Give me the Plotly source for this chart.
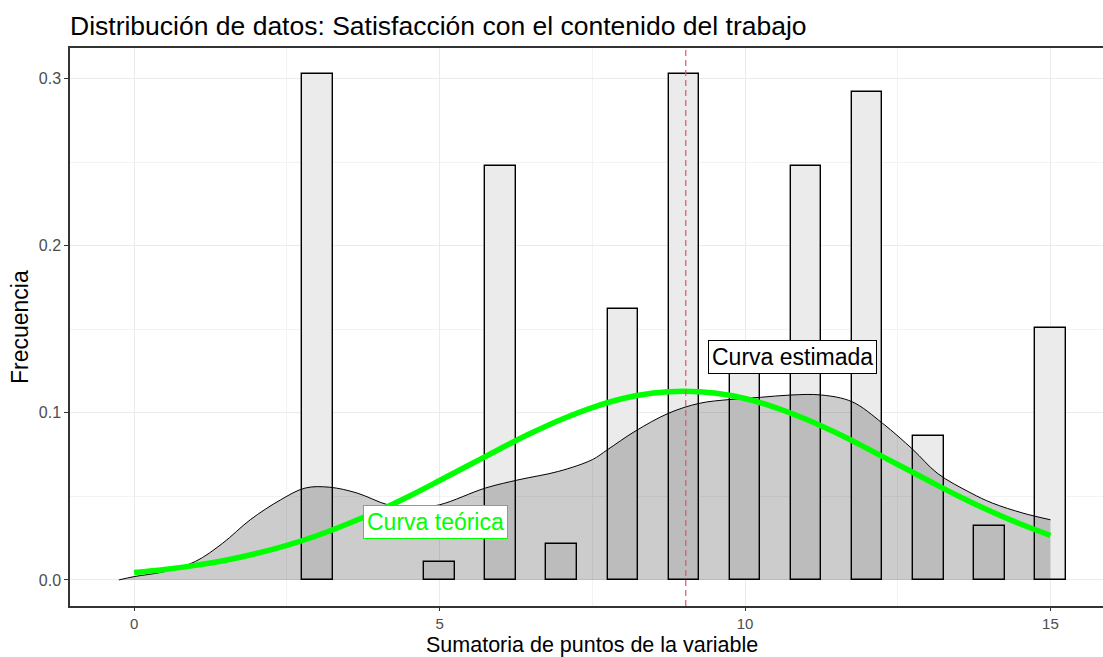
import plotly.graph_objects as go

# Histograma (densidad por barra, ancho de clase 0.5)
puntos = [3, 5, 6, 7, 8, 9, 10, 11, 12, 13, 14, 15]
frecuencia = [0.303, 0.011, 0.248, 0.0215, 0.162, 0.303, 0.140, 0.248, 0.292, 0.086, 0.032, 0.151]

# Curva estimada (densidad empírica)
est_x = [-0.25, 0, 0.5, 1.0, 1.45, 1.9, 2.4, 2.8, 3.2, 3.65, 4.15, 4.55, 5.0, 5.75, 6.3, 6.95,
         7.5, 7.75, 8.2, 8.75, 9.25, 9.75, 10.25, 10.75, 11.25, 11.75, 12.25, 12.75, 13.15,
         13.7, 14.05, 14.55, 15.0]
est_y = [0, 0.002, 0.005, 0.011, 0.022, 0.036, 0.048, 0.055, 0.0555, 0.052, 0.045, 0.043, 0.045,
         0.055, 0.060, 0.065, 0.072, 0.078, 0.089, 0.0998, 0.1057, 0.108, 0.1093, 0.1107, 0.1107,
         0.1067, 0.0938, 0.078, 0.0638, 0.052, 0.046, 0.040, 0.036]

# Curva teórica
teo_x = [0, 0.5, 1, 1.5, 2, 2.5, 3, 3.5, 4, 4.5, 5, 5.5, 6, 6.5, 7, 7.5, 8, 8.5, 9, 9.5,
         10, 10.5, 11, 11.5, 12, 12.5, 13, 13.5, 14, 14.5, 15]
teo_y = [0.0044, 0.0062, 0.0087, 0.0118, 0.0158, 0.0207, 0.0266, 0.0336, 0.0414, 0.0501, 0.0595,
         0.0691, 0.0787, 0.0879, 0.0962, 0.1032, 0.1086, 0.1119, 0.113, 0.1119, 0.1086, 0.1032,
         0.0962, 0.0879, 0.0787, 0.0691, 0.0595, 0.0501, 0.0414, 0.0336, 0.0266]

media = 9.03

FUENTE = "Liberation Sans, Arial, sans-serif"
W, H = 1103, 657
ML, MR, MT, MB = 70, 0, 48, 51
ancho = W - ML - MR
alto = H - MT - MB

fig = go.Figure()

fig.add_trace(go.Bar(
    x=puntos, y=frecuencia, width=0.5,
    marker=dict(color="#EBEBEB", line=dict(color="black", width=1.4)),
    showlegend=False
))

fig.add_trace(go.Scatter(
    x=est_x, y=est_y, mode="lines", line=dict(color="black", width=1, shape="spline"),
    fill="tozeroy", fillcolor="rgba(0,0,0,0.2)", showlegend=False
))

fig.add_trace(go.Scatter(
    x=teo_x, y=teo_y, mode="lines", line=dict(color="#00FF00", width=5.5, shape="spline"),
    showlegend=False
))

# linea de la media
fig.add_shape(type="line", x0=media, x1=media, y0=0, y1=1, yref="paper",
              line=dict(color="#E4526B", width=1.2, dash="6px,4px"), layer="above")

# etiquetas de las curvas
fig.add_annotation(x=10.77, y=0.1335, text="Curva estimada", showarrow=False,
                   font=dict(size=23, color="black", family=FUENTE),
                   bgcolor="white", bordercolor="black", borderwidth=1, borderpad=3)
fig.add_annotation(x=4.93, y=0.0344, text="Curva teórica", showarrow=False,
                   font=dict(size=23, color="#00FF00", family=FUENTE),
                   bgcolor="white", bordercolor="#00FF00", borderwidth=1, borderpad=3)

# titulos de ejes
fig.add_annotation(x=(592 - ML) / ancho, xref="paper", y=(H - MB - 645) / alto, yref="paper",
                   xanchor="center", yanchor="middle",
                   text="Sumatoria de puntos de la variable", showarrow=False,
                   font=dict(size=21.5, color="black", family=FUENTE))
fig.add_annotation(x=(20 - ML) / ancho, xref="paper", y=0.5, yref="paper",
                   xanchor="center", yanchor="middle", text="Frecuencia",
                   textangle=-90, showarrow=False, font=dict(size=23, color="black", family=FUENTE))

fig.update_layout(
    width=W, height=H,
    margin=dict(l=ML, r=MR, t=MT, b=MB),
    paper_bgcolor="white", plot_bgcolor="white",
    font=dict(family=FUENTE, color="#4D4D4D"),
    title=dict(text="Distribución de datos: Satisfacción con el contenido del trabajo",
               x=ML / W, xanchor="left", y=1 - 26 / H, yanchor="middle",
               font=dict(size=26.5, color="black", family=FUENTE)),
    bargap=0,
)

fig.update_xaxes(
    range=[-1.05, 15.86], tickvals=[0, 5, 10, 15], ticktext=["0", "5", "10", "15"],
    showgrid=True, gridcolor="#EBEBEB", gridwidth=1.2,
    minor=dict(showgrid=True, gridcolor="#F3F3F3", gridwidth=1, tickvals=[2.5, 7.5, 12.5]),
    showline=True, linecolor="#333333", linewidth=1.5, mirror=True,
    ticks="outside", ticklen=3, tickcolor="#333333", tickfont=dict(size=15, color="#4D4D4D"),
    zeroline=False,
)
fig.update_yaxes(
    range=[-0.0156, 0.3184], tickvals=[0, 0.1, 0.2, 0.3], ticktext=["0.0", "0.1", "0.2", "0.3"],
    showgrid=True, gridcolor="#EBEBEB", gridwidth=1.2,
    minor=dict(showgrid=True, gridcolor="#F3F3F3", gridwidth=1, tickvals=[0.05, 0.15, 0.25]),
    showline=True, linecolor="#333333", linewidth=1.5, mirror=False,
    ticks="outside", ticklen=4, tickcolor="#333333", tickfont=dict(size=16, color="#4D4D4D"),
    zeroline=False,
)

fig.write_html("out.html", config={"displayModeBar": False},
               post_script="document.body.style.margin='0';")
